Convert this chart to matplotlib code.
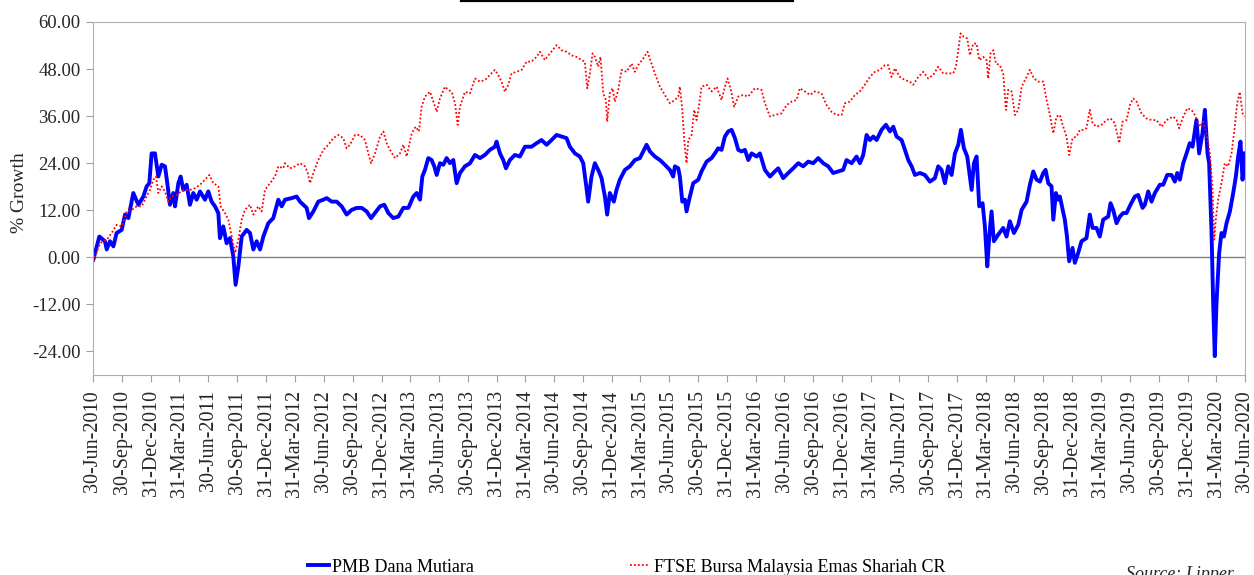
import numpy as np
import matplotlib
matplotlib.use("Agg")
import matplotlib.pyplot as plt
import pandas as pd
from matplotlib.lines import Line2D
from matplotlib.ticker import FormatStrFormatter

# (decimal year, % growth)
fund = [
    (2010.503, -0.6), (2010.555, 5.3), (2010.604, 4.1), (2010.619, 2.0), (2010.648, 4.1),
    (2010.677, 2.8), (2010.705, 6.2), (2010.749, 7.0), (2010.778, 10.9), (2010.807, 10.0),
    (2010.850, 16.4), (2010.894, 13.4), (2010.937, 15.5), (2010.966, 18.1), (2010.989, 18.9),
    (2011.009, 26.5), (2011.038, 26.5), (2011.067, 20.6), (2011.096, 23.6), (2011.125, 23.2),
    (2011.145, 18.9), (2011.168, 13.4), (2011.197, 16.4), (2011.212, 13.0), (2011.241, 18.9),
    (2011.261, 20.6), (2011.284, 17.2), (2011.313, 18.5), (2011.342, 13.4), (2011.371, 16.4),
    (2011.400, 14.7), (2011.429, 16.8), (2011.472, 14.7), (2011.501, 16.8), (2011.530, 14.2),
    (2011.559, 13.0), (2011.588, 11.3), (2011.602, 4.9), (2011.631, 7.9), (2011.660, 3.6),
    (2011.689, 4.9), (2011.718, 0.3), (2011.738, -7.0), (2011.762, -2.3), (2011.791, 5.3),
    (2011.834, 7.0), (2011.863, 6.2), (2011.892, 2.0), (2011.921, 4.1), (2011.950, 2.0),
    (2011.979, 5.3), (2012.022, 8.7), (2012.065, 10.0), (2012.109, 14.7), (2012.138, 13.0),
    (2012.167, 14.7), (2012.225, 15.1), (2012.268, 15.5), (2012.297, 14.2), (2012.326, 13.4),
    (2012.355, 12.6), (2012.375, 10.0), (2012.413, 11.7), (2012.456, 14.2), (2012.500, 14.7),
    (2012.529, 15.1), (2012.572, 14.2), (2012.615, 14.2), (2012.659, 13.0), (2012.702, 10.9),
    (2012.746, 12.1), (2012.789, 12.6), (2012.833, 12.6), (2012.876, 11.7), (2012.914, 10.0),
    (2012.948, 11.3), (2012.992, 13.0), (2013.029, 13.4), (2013.064, 11.3), (2013.107, 10.0),
    (2013.151, 10.4), (2013.194, 12.6), (2013.238, 12.6), (2013.281, 15.5), (2013.310, 16.4),
    (2013.339, 14.7), (2013.359, 20.6), (2013.382, 22.3), (2013.411, 25.3), (2013.440, 24.8),
    (2013.463, 23.2), (2013.484, 21.0), (2013.512, 24.0), (2013.541, 23.6), (2013.570, 25.3),
    (2013.599, 24.0), (2013.628, 24.8), (2013.657, 18.9), (2013.686, 21.5), (2013.729, 23.2),
    (2013.773, 24.0), (2013.816, 26.1), (2013.860, 25.3), (2013.902, 26.1), (2013.946, 27.4),
    (2013.989, 28.2), (2014.004, 29.5), (2014.033, 26.5), (2014.062, 24.8), (2014.085, 22.7),
    (2014.119, 24.8), (2014.163, 26.1), (2014.206, 25.7), (2014.250, 28.2), (2014.307, 28.2),
    (2014.351, 29.1), (2014.394, 29.9), (2014.438, 28.7), (2014.481, 29.9), (2014.525, 31.2),
    (2014.568, 30.8), (2014.611, 30.4), (2014.640, 28.2), (2014.684, 26.5), (2014.727, 25.7),
    (2014.756, 24.0), (2014.779, 18.9), (2014.799, 14.2), (2014.828, 20.6), (2014.857, 24.0),
    (2014.886, 22.3), (2014.915, 20.2), (2014.944, 15.5), (2014.964, 10.9), (2014.987, 16.4),
    (2015.022, 14.2), (2015.045, 17.2), (2015.074, 19.8), (2015.118, 22.3), (2015.161, 23.2),
    (2015.204, 24.8), (2015.248, 25.3), (2015.277, 27.0), (2015.306, 28.7), (2015.335, 27.0),
    (2015.378, 25.7), (2015.422, 24.8), (2015.465, 23.6), (2015.508, 22.3), (2015.537, 20.6),
    (2015.552, 23.2), (2015.581, 22.7), (2015.595, 20.6), (2015.616, 14.2), (2015.639, 14.7),
    (2015.653, 11.7), (2015.682, 15.5), (2015.711, 18.9), (2015.755, 19.8), (2015.783, 21.9),
    (2015.827, 24.4), (2015.870, 25.3), (2015.899, 26.5), (2015.928, 27.8), (2015.957, 27.4),
    (2015.986, 30.8), (2016.015, 32.1), (2016.044, 32.5), (2016.073, 30.4), (2016.102, 27.4),
    (2016.131, 27.0), (2016.160, 27.4), (2016.189, 24.8), (2016.218, 26.5), (2016.261, 25.7),
    (2016.290, 26.5), (2016.333, 22.3), (2016.377, 20.6), (2016.420, 21.9), (2016.449, 22.7),
    (2016.492, 20.2), (2016.536, 21.5), (2016.579, 22.7), (2016.623, 24.0), (2016.666, 23.2),
    (2016.709, 24.4), (2016.753, 24.0), (2016.796, 25.3), (2016.840, 24.0), (2016.883, 23.2),
    (2016.926, 21.5), (2016.970, 21.9), (2017.013, 22.3), (2017.042, 24.8), (2017.086, 24.0),
    (2017.129, 25.7), (2017.158, 24.0), (2017.187, 26.1), (2017.216, 31.2), (2017.245, 29.9),
    (2017.274, 30.8), (2017.303, 29.9), (2017.346, 32.5), (2017.384, 33.8), (2017.419, 32.1),
    (2017.448, 33.3), (2017.476, 30.8), (2017.520, 29.9), (2017.549, 27.4), (2017.578, 24.8),
    (2017.607, 23.2), (2017.636, 21.0), (2017.679, 21.5), (2017.722, 21.0), (2017.766, 19.3),
    (2017.809, 20.2), (2017.838, 23.2), (2017.867, 22.3), (2017.896, 18.9), (2017.925, 23.2),
    (2017.954, 21.0), (2017.983, 26.5), (2018.012, 28.7), (2018.035, 32.5), (2018.061, 27.8),
    (2018.090, 25.7), (2018.113, 20.6), (2018.128, 17.2), (2018.148, 24.0), (2018.171, 25.7),
    (2018.194, 13.0), (2018.223, 13.8), (2018.243, 7.9), (2018.264, -2.3), (2018.281, 5.3),
    (2018.301, 11.7), (2018.321, 4.1), (2018.359, 5.8), (2018.402, 7.5), (2018.431, 5.3),
    (2018.460, 9.2), (2018.495, 6.2), (2018.533, 8.3), (2018.562, 12.1), (2018.605, 14.2),
    (2018.634, 18.5), (2018.663, 21.9), (2018.692, 19.8), (2018.721, 19.3), (2018.750, 21.5),
    (2018.770, 22.3), (2018.793, 18.9), (2018.822, 18.1), (2018.837, 9.6), (2018.860, 16.4),
    (2018.880, 14.7), (2018.894, 15.5), (2018.937, 9.6), (2018.955, 5.5), (2018.975, -1.0),
    (2019.004, 2.4), (2019.024, -1.4), (2019.053, 1.1), (2019.082, 4.1), (2019.125, 4.9),
    (2019.154, 10.9), (2019.178, 7.5), (2019.212, 7.5), (2019.241, 5.3), (2019.270, 9.6),
    (2019.314, 10.4), (2019.334, 13.8), (2019.357, 12.1), (2019.386, 8.7), (2019.415, 10.4),
    (2019.444, 11.3), (2019.473, 11.3), (2019.507, 13.4), (2019.545, 15.5), (2019.574, 15.9),
    (2019.612, 12.6), (2019.632, 13.4), (2019.661, 16.8), (2019.690, 14.2), (2019.719, 16.4),
    (2019.762, 18.5), (2019.791, 18.5), (2019.826, 21.0), (2019.863, 21.0), (2019.892, 19.3),
    (2019.913, 21.5), (2019.936, 19.8), (2019.965, 24.0), (2019.994, 26.5), (2020.022, 29.1),
    (2020.046, 28.2), (2020.080, 35.0), (2020.103, 26.5), (2020.132, 31.6), (2020.153, 37.6),
    (2020.176, 26.5), (2020.190, 24.0), (2020.211, 6.2), (2020.225, -11.6), (2020.239, -25.2),
    (2020.254, -11.6), (2020.277, 1.1), (2020.297, 6.2), (2020.318, 5.3), (2020.341, 8.7),
    (2020.370, 11.7), (2020.399, 16.4), (2020.422, 20.6), (2020.442, 25.7), (2020.462, 29.5),
    (2020.480, 19.8), (2020.500, 26.5),
]

benchmark = [
    (2010.503, -1.0), (2010.561, 3.6), (2010.619, 4.5), (2010.662, 6.2), (2010.705, 8.3),
    (2010.749, 7.9), (2010.792, 11.7), (2010.836, 12.1), (2010.879, 13.0), (2010.923, 13.0),
    (2010.951, 14.7), (2010.995, 17.2), (2011.024, 19.8), (2011.047, 20.6), (2011.067, 16.4),
    (2011.096, 18.1), (2011.125, 16.8), (2011.154, 14.2), (2011.183, 15.5), (2011.226, 15.9),
    (2011.284, 17.2), (2011.342, 17.2), (2011.385, 17.6), (2011.429, 18.5), (2011.472, 19.8),
    (2011.510, 21.0), (2011.545, 18.9), (2011.588, 18.1), (2011.608, 13.0), (2011.646, 11.3),
    (2011.675, 9.6), (2011.704, 5.3), (2011.733, 1.1), (2011.762, 4.5), (2011.791, 9.6),
    (2011.819, 12.1), (2011.863, 13.4), (2011.892, 10.9), (2011.935, 13.0), (2011.964, 11.7),
    (2011.993, 17.2), (2012.037, 18.9), (2012.080, 20.6), (2012.109, 23.2), (2012.152, 22.7),
    (2012.167, 24.0), (2012.210, 22.7), (2012.254, 23.2), (2012.297, 24.0), (2012.341, 23.2),
    (2012.364, 21.5), (2012.384, 18.9), (2012.413, 21.5), (2012.456, 24.8), (2012.500, 27.4),
    (2012.543, 28.7), (2012.587, 30.4), (2012.630, 31.2), (2012.673, 30.4), (2012.702, 27.8),
    (2012.731, 28.7), (2012.775, 31.2), (2012.818, 31.2), (2012.861, 29.9), (2012.890, 26.5),
    (2012.914, 24.0), (2012.948, 26.5), (2012.992, 30.8), (2013.021, 32.1), (2013.049, 29.1),
    (2013.078, 27.4), (2013.122, 25.3), (2013.165, 26.5), (2013.194, 28.7), (2013.223, 25.7),
    (2013.267, 31.6), (2013.301, 33.3), (2013.330, 32.1), (2013.353, 38.4), (2013.382, 41.0),
    (2013.426, 42.2), (2013.455, 39.7), (2013.484, 37.1), (2013.512, 40.5), (2013.556, 43.5),
    (2013.585, 42.7), (2013.614, 42.2), (2013.643, 39.3), (2013.666, 33.8), (2013.686, 38.4),
    (2013.729, 42.2), (2013.773, 41.8), (2013.816, 45.6), (2013.860, 44.8), (2013.902, 45.2),
    (2013.946, 46.5), (2013.989, 47.8), (2014.018, 46.5), (2014.047, 44.8), (2014.076, 42.2),
    (2014.105, 44.0), (2014.134, 46.9), (2014.177, 47.3), (2014.221, 47.8), (2014.264, 49.9),
    (2014.307, 49.9), (2014.351, 51.1), (2014.380, 52.4), (2014.423, 50.3), (2014.467, 52.0),
    (2014.525, 54.1), (2014.568, 52.8), (2014.611, 52.4), (2014.655, 51.5), (2014.698, 51.1),
    (2014.742, 50.3), (2014.770, 49.9), (2014.791, 43.1), (2014.814, 46.9), (2014.837, 52.0),
    (2014.857, 51.1), (2014.886, 48.6), (2014.906, 51.1), (2014.930, 41.8), (2014.953, 40.1),
    (2014.964, 34.6), (2014.987, 41.8), (2015.011, 43.1), (2015.031, 39.7), (2015.060, 42.7),
    (2015.089, 47.8), (2015.132, 47.3), (2015.176, 49.4), (2015.204, 47.3), (2015.233, 49.0),
    (2015.277, 50.7), (2015.314, 52.4), (2015.349, 49.4), (2015.378, 46.9), (2015.422, 43.5),
    (2015.465, 41.4), (2015.508, 39.3), (2015.552, 40.1), (2015.581, 41.0), (2015.595, 43.5),
    (2015.616, 37.6), (2015.633, 29.9), (2015.653, 24.0), (2015.668, 29.9), (2015.697, 31.2),
    (2015.720, 37.6), (2015.740, 35.0), (2015.760, 38.4), (2015.783, 43.5), (2015.827, 44.0),
    (2015.870, 42.3), (2015.914, 43.5), (2015.957, 40.1), (2015.986, 43.5), (2016.009, 45.6),
    (2016.038, 42.7), (2016.067, 38.4), (2016.102, 41.0), (2016.145, 41.4), (2016.189, 41.0),
    (2016.246, 43.1), (2016.304, 42.7), (2016.333, 39.3), (2016.377, 35.9), (2016.420, 36.3),
    (2016.478, 36.7), (2016.521, 38.8), (2016.565, 39.7), (2016.608, 40.1), (2016.637, 43.1),
    (2016.680, 42.3), (2016.724, 41.4), (2016.767, 42.3), (2016.825, 41.8), (2016.869, 38.8),
    (2016.912, 37.1), (2016.955, 36.3), (2016.999, 36.3), (2017.028, 39.3), (2017.071, 39.7),
    (2017.115, 41.4), (2017.158, 42.3), (2017.201, 44.0), (2017.245, 46.0), (2017.288, 47.3),
    (2017.332, 47.8), (2017.375, 49.0), (2017.404, 49.0), (2017.433, 46.0), (2017.462, 48.2),
    (2017.505, 46.0), (2017.549, 45.2), (2017.592, 44.8), (2017.621, 44.0), (2017.665, 46.0),
    (2017.708, 47.3), (2017.751, 45.6), (2017.795, 46.5), (2017.838, 48.6), (2017.882, 46.9),
    (2017.925, 46.9), (2017.968, 46.9), (2017.992, 48.6), (2018.012, 52.8), (2018.032, 57.1),
    (2018.061, 56.2), (2018.090, 55.8), (2018.113, 51.5), (2018.142, 54.5), (2018.171, 54.5),
    (2018.194, 50.3), (2018.229, 51.1), (2018.258, 50.3), (2018.272, 45.6), (2018.292, 52.0),
    (2018.316, 52.8), (2018.339, 49.4), (2018.373, 49.0), (2018.402, 46.9), (2018.426, 37.6),
    (2018.446, 42.7), (2018.475, 42.3), (2018.504, 36.3), (2018.533, 37.6), (2018.562, 43.5),
    (2018.605, 46.0), (2018.634, 47.8), (2018.669, 45.6), (2018.706, 44.8), (2018.750, 44.8),
    (2018.779, 40.1), (2018.808, 36.3), (2018.837, 31.6), (2018.865, 35.9), (2018.894, 36.3),
    (2018.923, 33.3), (2018.952, 30.8), (2018.975, 26.1), (2019.004, 30.4), (2019.039, 30.8),
    (2019.068, 32.5), (2019.097, 32.5), (2019.125, 32.9), (2019.154, 37.6), (2019.178, 34.2),
    (2019.212, 33.3), (2019.256, 33.8), (2019.299, 35.0), (2019.334, 35.4), (2019.371, 34.2),
    (2019.409, 29.1), (2019.438, 34.6), (2019.473, 35.0), (2019.502, 38.8), (2019.531, 40.5),
    (2019.560, 39.7), (2019.603, 36.7), (2019.646, 35.4), (2019.690, 35.0), (2019.733, 35.0),
    (2019.777, 33.3), (2019.820, 35.0), (2019.878, 35.9), (2019.907, 35.0), (2019.930, 32.9),
    (2019.965, 35.9), (2020.000, 38.0), (2020.037, 37.6), (2020.066, 36.3), (2020.109, 33.3),
    (2020.138, 34.6), (2020.167, 31.6), (2020.196, 26.5), (2020.219, 18.1), (2020.234, 4.5),
    (2020.248, 9.6), (2020.268, 14.7), (2020.297, 18.9), (2020.326, 24.0), (2020.355, 23.2),
    (2020.384, 26.5), (2020.413, 33.3), (2020.433, 39.3), (2020.456, 42.2), (2020.480, 36.7),
    (2020.500, 35.9),
]

fund_name = "PMB Dana Mutiara"
bench_name = "FTSE Bursa Malaysia Emas Shariah CR"
y_ticks = [-24, -12, 0, 12, 24, 36, 48, 60]

start = pd.Timestamp("2010-06-30")
end = pd.Timestamp("2020-06-30")


def to_dates(years):
    return start + pd.to_timedelta((np.asarray(years) - 2010.5) * 365.25, unit="D")


fund_t, fund_v = zip(*fund)
bench_t, bench_v = zip(*benchmark)

quarter_ends = []
for yr in range(2010, 2021):
    for m, d in [(3, 31), (6, 30), (9, 30), (12, 31)]:
        q = pd.Timestamp(yr, m, d)
        if start <= q <= end:
            quarter_ends.append(q)

serif = "Liberation Serif"
plt.rcParams["font.family"] = [serif, "DejaVu Serif"]

fig = plt.figure(figsize=(12.54, 5.75), dpi=100)
ax = fig.add_axes([93 / 1254, 200 / 575, 1152 / 1254, 353 / 575])

ax.plot(to_dates(fund_t), fund_v, color="#0000ff", lw=2.8, label=fund_name,
        solid_joinstyle="round")
ax.plot(to_dates(bench_t), bench_v, color="#ff0000", lw=1.3, ls=(0, (1, 1.2)),
        label=bench_name)
ax.axhline(0, color="#808080", lw=1, zorder=1)

ax.set_xlim(start, end)
ax.set_ylim(-30, 60)
ax.set_yticks(y_ticks)
ax.yaxis.set_major_formatter(FormatStrFormatter("%.2f"))
ax.set_xticks(quarter_ends)
ax.set_xticklabels([q.strftime("%d-%b-%Y") for q in quarter_ends], rotation=90)

for s in ax.spines.values():
    s.set_color("#b0b0b0")
ax.tick_params(axis="both", colors="#a0a0a0", labelcolor="#262626", length=5)
ax.tick_params(axis="y", labelsize=13.5, pad=4)
ax.tick_params(axis="x", labelsize=14.5, pad=6)

fig.text(19 / 1254, 1 - 193 / 575, "% Growth", rotation=90, ha="center", va="center",
         fontsize=14, color="#262626")

fig.legend(loc="center left", bbox_to_anchor=(308 / 1254, 8 / 575), ncol=2,
           frameon=False, handlelength=1.15, handletextpad=0.2, columnspacing=8.6,
           borderpad=0, borderaxespad=0, prop={"family": serif, "size": 13})

fig.text(1126 / 1254, -4 / 575, "Source: Lipper", style="italic", fontsize=13,
         ha="left", va="baseline", color="#262626")

# underline of the cropped title above the chart
fig.add_artist(Line2D([461 / 1254, 793 / 1254], [1 - 0.8 / 575] * 2, color="black", lw=1.6))

fig.savefig("out.png", dpi=100)
